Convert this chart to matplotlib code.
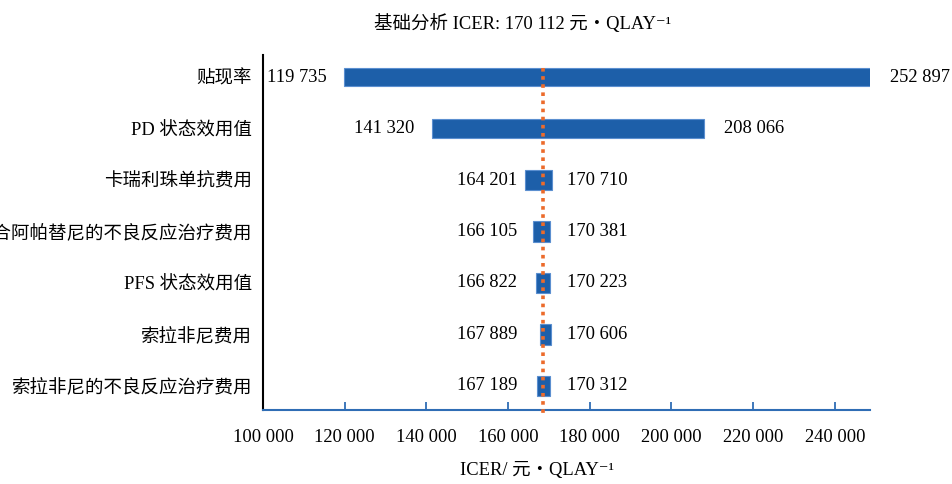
import matplotlib
matplotlib.use('Agg')
import matplotlib.pyplot as plt

plt.rcParams['font.family'] = ['Liberation Serif', 'DejaVu Serif', 'Noto Sans CJK SC']
plt.rcParams['axes.unicode_minus'] = False

categories = ['贴现率', 'PD 状态效用值', '卡瑞利珠单抗费用', '联合阿帕替尼的不良反应治疗费用',
              'PFS 状态效用值', '索拉非尼费用', '索拉非尼的不良反应治疗费用']
low_values = [119735, 141320, 164201, 166105, 166822, 167889, 167189]
high_values = [252897, 208066, 170710, 170381, 170223, 170606, 170312]
base_icer = 170112
ref_line = 168600          # position of the dotted reference line as drawn
x_ticks = [100000, 120000, 140000, 160000, 180000, 200000, 220000, 240000]
x_min, x_max = 100000, 248600

BAR = '#1d5fa9'
EDGE = '#5b8fd0'
ORANGE = '#ec6b2b'
AXBLUE = '#2f6db5'
FS = 13.3

def fmt(v):
    return f"{v:,}".replace(',', ' ')

fig = plt.figure(figsize=(9.52, 4.84), dpi=100)
ax = fig.add_axes([263/952, 1-410/484, (870-263)/952, (410-55)/484])

ypos = list(range(len(categories)))
heights = [0.36, 0.36, 0.40, 0.40, 0.40, 0.40, 0.40]
ax.barh(ypos, [h - l for l, h in zip(low_values, high_values)], left=low_values,
        height=heights, color=BAR, edgecolor=EDGE, linewidth=0.8, zorder=2)

ax.plot([ref_line, ref_line], [-0.18, 6.6], color=ORANGE, lw=2.6,
        linestyle=(0, (1.0, 1.25)), dash_capstyle='butt', clip_on=False, zorder=3)

px = 0.72
for y, l, h in zip(ypos, low_values, high_values):
    if h - l > 20000:
        ax.annotate(fmt(l), xy=(l, y), xytext=(-17*px, 0), textcoords='offset points',
                    ha='right', va='center', fontsize=FS)
        ax.annotate(fmt(h), xy=(min(h, x_max), y), xytext=(20*px, 0), textcoords='offset points',
                    ha='left', va='center', fontsize=FS, annotation_clip=False)
    else:
        ax.annotate(fmt(l), xy=(ref_line, y), xytext=(-26*px, 0), textcoords='offset points',
                    ha='right', va='center', fontsize=FS)
        ax.annotate(fmt(h), xy=(ref_line, y), xytext=(24*px, 0), textcoords='offset points',
                    ha='left', va='center', fontsize=FS)

ax.set_xlim(x_min, x_max)
ax.set_ylim(6.47, -0.43)
ax.set_yticks(ypos)
ax.set_yticklabels(categories, fontsize=FS)
ax.tick_params(axis='y', length=0, pad=8)
ax.set_xticks(x_ticks)
ax.set_xticklabels([fmt(t) for t in x_ticks], fontsize=FS)
ax.tick_params(axis='x', direction='in', length=6, width=1.3, color=AXBLUE, pad=14)

for s in ['top', 'right']:
    ax.spines[s].set_visible(False)
ax.spines['left'].set_color('black')
ax.spines['left'].set_linewidth(1.5)
ax.spines['bottom'].set_color(AXBLUE)
ax.spines['bottom'].set_linewidth(1.5)

fig.text(523/952, 1-23/484, '基础分析 ICER: ' + fmt(base_icer) + ' 元・QLAY⁻¹',
         ha='center', va='center', fontsize=FS)
fig.text(537/952, 1-471/484, 'ICER/ 元・QLAY⁻¹', ha='center', va='center', fontsize=FS)

fig.savefig('out.png', dpi=100)
